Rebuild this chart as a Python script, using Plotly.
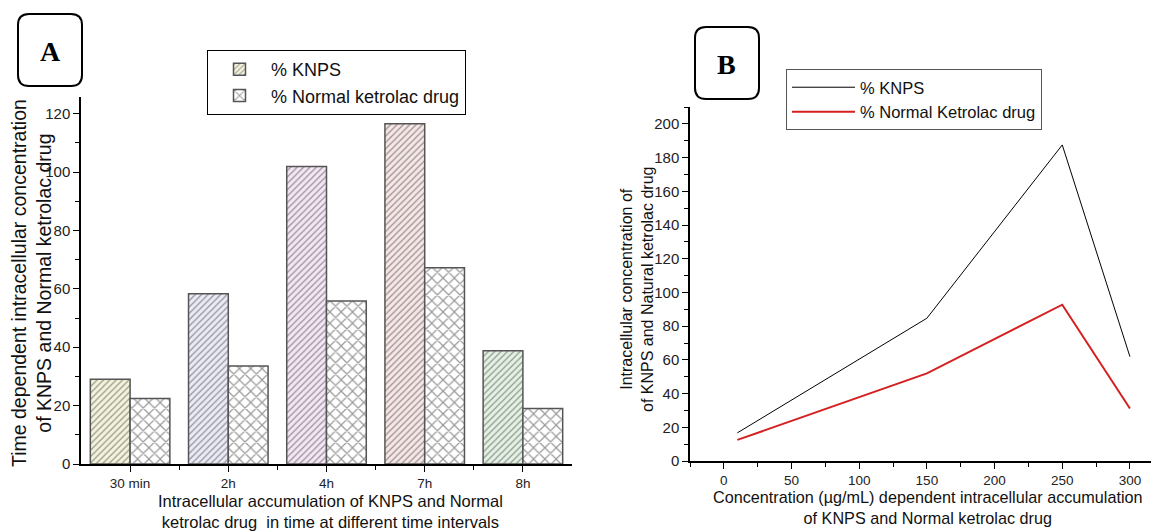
import plotly.graph_objects as go

# ---------------- data ----------------
time_points = ["30 min", "2h", "4h", "7h", "8h"]
knps_time = [29.0, 58.3, 101.9, 116.5, 38.8]
normal_time = [22.4, 33.6, 55.8, 67.2, 19.0]
knps_colors = ["#f4f4dc", "#ebebf7", "#f5e6f5", "#f7e7e7", "#e4f2e4"]

conc = [10, 150, 250, 300]
knps_conc = [16.7, 84.7, 187.5, 61.9]
normal_conc = [12.5, 52.0, 92.7, 31.1]

# page body has an 8px margin; figure sized to fit the window
OFF = 8
W, H = 1159 - OFF, 531 - OFF
FONT = "Liberation Sans"


def px(x):
    return (x - OFF) / W


def py(y):
    return 1 - (y - OFF) / H


def rounded_box(x0, y0, x1, y1, r=11):
    rx, ry = r / W, r / H
    X0, X1 = px(x0), px(x1)
    Y0, Y1 = py(y0), py(y1)  # Y0 top, Y1 bottom
    return (f"M {X0+rx},{Y0} L {X1-rx},{Y0} Q {X1},{Y0} {X1},{Y0-ry} "
            f"L {X1},{Y1+ry} Q {X1},{Y1} {X1-rx},{Y1} "
            f"L {X0+rx},{Y1} Q {X0},{Y1} {X0},{Y1+ry} "
            f"L {X0},{Y0-ry} Q {X0},{Y0} {X0+rx},{Y0} Z")


fig = go.Figure()

idx = list(range(len(time_points)))

fig.add_trace(go.Bar(
    x=idx, y=knps_time, name="% KNPS",
    marker=dict(color=knps_colors,
                line=dict(color="#555555", width=1.5),
                pattern=dict(shape="/", fgcolor="#555555", bgcolor=knps_colors,
                             fillmode="overlay", size=4.5, solidity=0.3)),
    xaxis="x", yaxis="y", legend="legend",
))
fig.add_trace(go.Bar(
    x=idx, y=normal_time, name="% Normal ketrolac drug",
    marker=dict(color="white",
                line=dict(color="#555555", width=1.5),
                pattern=dict(shape="x", fgcolor="#333333", bgcolor="white",
                             fillmode="overlay", size=8, solidity=0.28)),
    xaxis="x", yaxis="y", legend="legend",
))

fig.add_trace(go.Scatter(
    x=conc, y=knps_conc, name="% KNPS", mode="lines",
    line=dict(color="black", width=1),
    xaxis="x2", yaxis="y2", legend="legend2",
))
fig.add_trace(go.Scatter(
    x=conc, y=normal_conc, name="% Normal Ketrolac drug", mode="lines",
    line=dict(color="#d42020", width=2),
    xaxis="x2", yaxis="y2", legend="legend2",
))

axis_common = dict(
    showline=True, linecolor="black", linewidth=1.5,
    ticks="outside", ticklen=6, tickwidth=1.2, tickcolor="black",
    showgrid=False, zeroline=False, automargin=False,
)
xtickfont = dict(family=FONT, size=13.5, color="#222")
ytickfont = dict(family=FONT, size=15, color="#222")

title_font_a_y = dict(family=FONT, size=19.5, color="#111")
title_font_a_x = dict(family=FONT, size=16.5, color="#111")
title_font_b_y = dict(family=FONT, size=16, color="#111")
title_font_b_x = dict(family=FONT, size=16.2, color="#111")

fig.update_layout(
    width=W, height=H,
    margin=dict(l=0, r=0, t=0, b=0),
    paper_bgcolor="white", plot_bgcolor="white",
    barmode="group", bargap=0.19, bargroupgap=0,
    font=dict(family=FONT, color="#111"),
    xaxis=dict(
        **axis_common, tickfont=xtickfont,
        domain=[px(81), px(572)], anchor="y",
        range=[-0.5, len(time_points) - 0.5],
        tickmode="array", tickvals=idx, ticktext=time_points,
        minor=dict(tickmode="array",
                   tickvals=[i + 0.5 for i in idx[:-1]],
                   ticks="outside", ticklen=4, tickcolor="black"),
    ),
    yaxis=dict(
        **axis_common, tickfont=ytickfont,
        domain=[py(464), py(97)], anchor="x",
        range=[0, 125.7], dtick=20, tick0=0,
        minor=dict(dtick=10, ticks="outside", ticklen=4, tickcolor="black"),
    ),
    xaxis2=dict(
        **axis_common, tickfont=xtickfont,
        domain=[px(690), px(1157)], anchor="y2",
        range=[-25, 320], dtick=50, tick0=0,
        minor=dict(dtick=25, ticks="outside", ticklen=4, tickcolor="black"),
    ),
    yaxis2=dict(
        **axis_common, tickfont=ytickfont,
        domain=[py(461), py(107)], anchor="x2",
        range=[0, 210], dtick=20, tick0=0,
        minor=dict(dtick=10, ticks="outside", ticklen=4, tickcolor="black"),
    ),
    legend=dict(
        x=px(207), y=py(50), xanchor="left", yanchor="top",
        bordercolor="black", borderwidth=1, bgcolor="white",
        font=dict(family=FONT, size=18, color="#111"),
        tracegroupgap=0, itemwidth=53,
    ),
    legend2=dict(
        x=px(786), y=py(69), xanchor="left", yanchor="top",
        bordercolor="#555", borderwidth=1, bgcolor="white",
        font=dict(family=FONT, size=16.5, color="#111"),
        tracegroupgap=0, itemwidth=63,
    ),
    shapes=[
        dict(type="path", xref="paper", yref="paper",
             path=rounded_box(18, 14, 82, 86), line=dict(color="black", width=2)),
        dict(type="path", xref="paper", yref="paper",
             path=rounded_box(695, 27, 759, 99), line=dict(color="black", width=2)),
    ],
    annotations=[
        dict(text="<b>A</b>", x=px(50), y=py(51), xref="paper", yref="paper",
             xanchor="center", yanchor="middle",
             showarrow=False, font=dict(family="Liberation Serif", size=28, color="black")),
        dict(text="<b>B</b>", x=px(727), y=py(64), xref="paper", yref="paper",
             xanchor="center", yanchor="middle",
             showarrow=False, font=dict(family="Liberation Serif", size=28, color="black")),
        # axis titles
        dict(text="Time dependent intracellular concentration<br>"
                  "of KNPS and Normal ketrolac drug",
             x=px(31), y=py(283), xref="paper", yref="paper", textangle=-90,
             xanchor="center", yanchor="middle", showarrow=False,
             font=title_font_a_y),
        dict(text="Intracellular accumulation of KNPS and Normal<br>"
                  "ketrolac drug  in time at different time intervals",
             x=px(330), y=py(511), xref="paper", yref="paper",
             xanchor="center", yanchor="middle", showarrow=False,
             font=title_font_a_x),
        dict(text="Intracellular concentration of<br>"
                  "of KNPS and Natural ketrolac drug",
             x=px(637), y=py(290), xref="paper", yref="paper", textangle=-90,
             xanchor="center", yanchor="middle", showarrow=False,
             font=title_font_b_y),
        dict(text="Concentration (µg/mL) dependent intracellular accumulation<br>"
                  "of KNPS and Normal ketrolac drug",
             x=px(928), y=py(507), xref="paper", yref="paper",
             xanchor="center", yanchor="middle", showarrow=False,
             font=title_font_b_x),
    ],
)

fig.write_html("out.html")
